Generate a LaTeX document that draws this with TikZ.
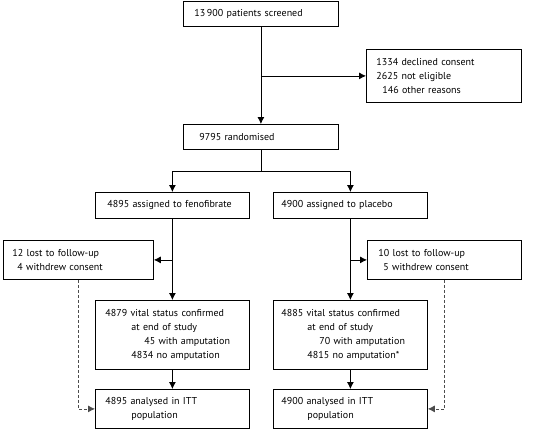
\documentclass[tikz,border=0pt]{standalone}
\usepackage{fontspec}
\setmainfont{PT Sans}
\usetikzlibrary{arrows.meta}

\begin{document}
\begin{tikzpicture}[x=1pt, y=-1pt,
	flowbox/.style n args={3}{draw, line width=0.8pt, anchor=north west,
		text width=#1, minimum height=#2, inner xsep=#3, inner ysep=0pt,
		align=left, font=\fontsize{10}{14.3}\selectfont},
	flow/.style={line width=0.8pt, -{Latex[length=7pt,width=7pt]}},
	lostflow/.style={flow, densely dashed, draw=black!70}]
	%%%%% START %%%%%
	\useasboundingbox (0, 0) rectangle (551, 429);
	
	\node[flowbox={133pt}{25pt}{11pt}] (screened) at (183, 1) {13\,900 patients screened};
	\node[flowbox={135pt}{53pt}{10pt}] (excluded) at (366, 49) {1334 declined consent\\2625 not eligible\\\hspace*{6pt}146 other reasons};
	\node[flowbox={123pt}{25pt}{16pt}] (randomised) at (183, 124) {9795 randomised};
	
	\node[flowbox={130pt}{26pt}{12pt}] (feno) at (95, 192) {4895 assigned to fenofibrate};
	\node[flowbox={138pt}{26pt}{8pt}] (placebo) at (273, 192) {4900 assigned to placebo};
	
	\node[flowbox={132pt}{39pt}{9pt}] (lostfeno) at (3, 240) {12 lost to follow-up\\\hspace*{5pt}4 withdrew consent};
	\node[flowbox={132pt}{39pt}{11pt}] (lostplac) at (367, 240) {10 lost to follow-up\\\hspace*{5pt}5 withdrew consent};
	
	\node[flowbox={134pt}{69pt}{10pt}] (vitalfeno) at (95, 300) {4879 vital status confirmed\\\hspace*{26pt}at end of study\\\hspace*{39pt}45 with amputation\\\hspace*{26pt}4834 no amputation};
	\node[flowbox={138pt}{69pt}{8pt}] (vitalplac) at (273, 300) {4885 vital status confirmed\\\hspace*{26pt}at end of study\\\hspace*{38pt}70 with amputation\\\hspace*{26pt}4815 no amputation*};
	
	\node[flowbox={134pt}{39pt}{10pt}] (ittfeno) at (95, 389) {4895 analysed in ITT\\\hspace*{26pt}population};
	\node[flowbox={138pt}{39pt}{8pt}] (ittplac) at (273, 389) {4900 analysed in ITT\\\hspace*{26pt}population};
	
	\coordinate (split) at (randomised.south |- 0, 171);
	\coordinate (exsplit) at (screened.south |- excluded.west);
	\coordinate (lfsplit) at (feno.south |- lostfeno.east);
	\coordinate (lpsplit) at (placebo.south |- lostplac.west);
	
	\draw[flow] (screened) -- (randomised);
	\draw[flow] (exsplit) -- (excluded);
	\draw[line width=0.8pt] (randomised) -- (split);
	\draw[flow] (split) -| (feno);
	\draw[flow] (split) -| (placebo);
	
	\draw[flow] (feno) -- (vitalfeno);
	\draw[flow] (placebo) -- (vitalplac);
	\draw[flow] (lfsplit) -- (lostfeno);
	\draw[flow] (lpsplit) -- (lostplac);
	
	\draw[flow] (vitalfeno) -- (ittfeno);
	\draw[flow] (vitalplac) -- (ittplac);
	\draw[lostflow] (lostfeno) |- (ittfeno);
	\draw[lostflow] (lostplac) |- (ittplac);
	%%%%% END %%%%%
\end{tikzpicture}
\end{document}
